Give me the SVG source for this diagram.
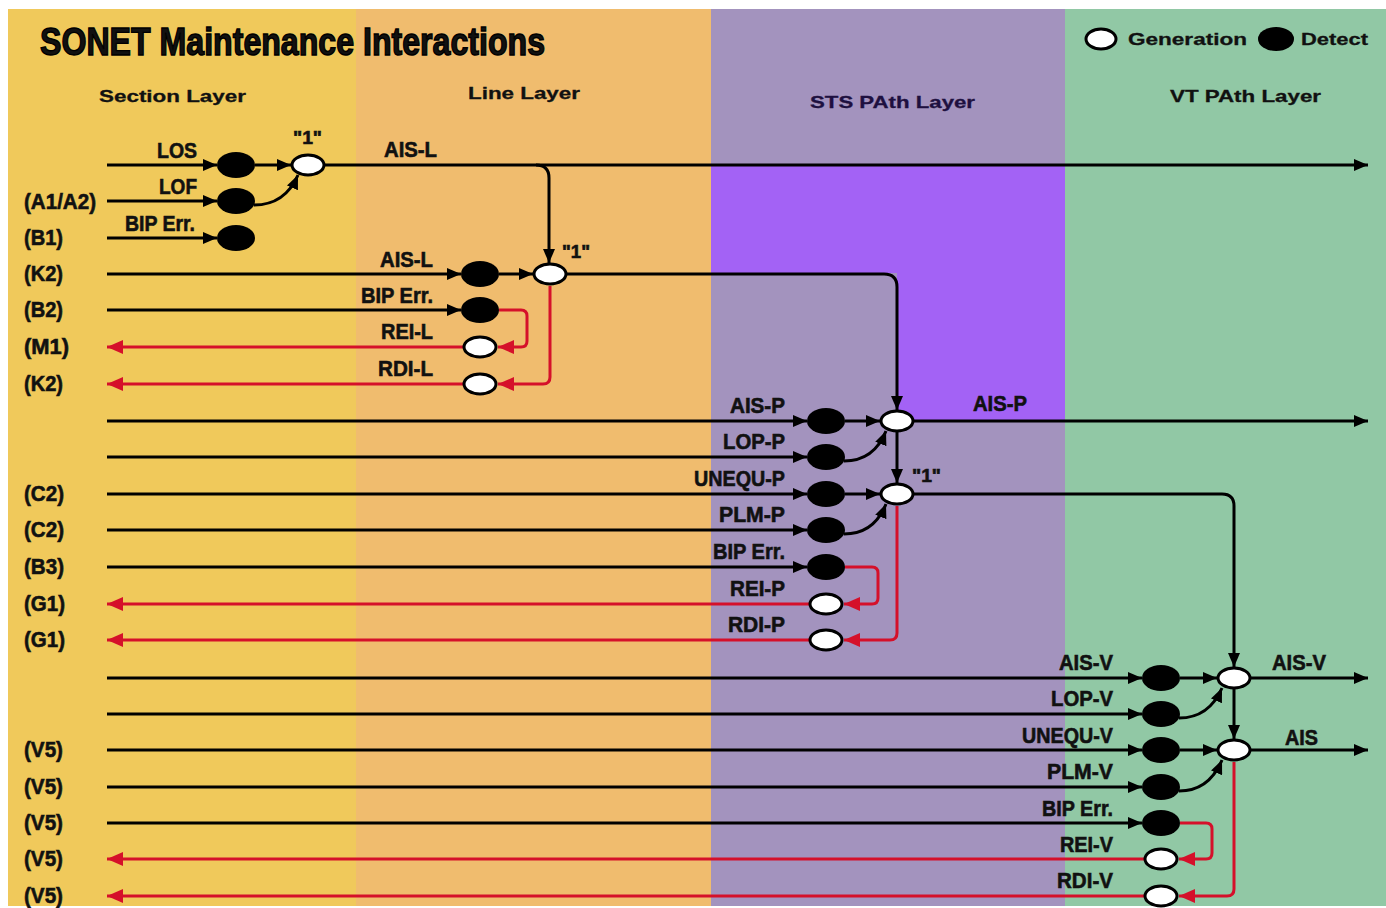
<svg xmlns="http://www.w3.org/2000/svg" width="1386" height="908" viewBox="0 0 1386 908">
<style>
.ln{fill:none;stroke:#000;stroke-width:3;marker-end:url(#ab)}
.rd{fill:none;stroke:#D5102A;stroke-width:3;marker-end:url(#ar)}
.det{fill:#000}
.gen{fill:#fff;stroke:#000;stroke-width:3}
text{font-family:"Liberation Sans",Arial,Helvetica,sans-serif;font-weight:bold;fill:#111}
.lb{font-size:22px;stroke:#111;stroke-width:0.6}
.lbe{font-size:22px;text-anchor:end;stroke:#111;stroke-width:0.6}
.hd{font-size:17px;stroke:#111;stroke-width:0.3}
.q{font-size:18px;stroke:#111;stroke-width:0.6}
.ttl{font-size:38px;stroke:#000;stroke-width:1.4}
</style>
<defs>
<marker id="ab" markerUnits="userSpaceOnUse" markerWidth="14" markerHeight="12" refX="14" refY="6" orient="auto"><path d="M0,0 L14,6 L0,12 z" fill="#000"/></marker>
<marker id="ar" markerUnits="userSpaceOnUse" markerWidth="16" markerHeight="14" refX="16" refY="7" orient="auto"><path d="M0,0 L16,7 L0,14 z" fill="#D5102A"/></marker>
</defs>
<rect x="0" y="0" width="1386" height="908" fill="#fff"/>
<g id="bands">
<rect x="8" y="9" width="349" height="897" fill="#F0C95B"/>
<rect x="356" y="9" width="356" height="897" fill="#F0BC6E"/>
<rect x="711" y="9" width="355" height="897" fill="#A393BE"/>
<path d="M711,165 H1065 V421 H897 V273 H711 Z" fill="#A362F5"/>
<rect x="1065" y="9" width="321" height="897" fill="#91C8A5"/>
</g>
<g id="titles">
<text class="ttl" x="40" y="55" textLength="505" lengthAdjust="spacingAndGlyphs">SONET Maintenance Interactions</text>
<text class="hd" x="99" y="102" textLength="147" lengthAdjust="spacingAndGlyphs">Section Layer</text>
<text class="hd" x="468" y="99" textLength="112" lengthAdjust="spacingAndGlyphs">Line Layer</text>
<text class="hd" x="810" y="108" textLength="165" lengthAdjust="spacingAndGlyphs" style="fill:#1e1040;stroke:#1e1040">STS PAth Layer</text>
<text class="hd" x="1170" y="102" textLength="151" lengthAdjust="spacingAndGlyphs">VT PAth Layer</text>
</g>
<g id="legend">
<ellipse class="gen" cx="1101" cy="39" rx="15" ry="10"/>
<text class="hd" x="1128" y="45" textLength="119" lengthAdjust="spacingAndGlyphs">Generation</text>
<ellipse class="det" cx="1276" cy="39" rx="18" ry="12"/>
<text class="hd" x="1301" y="45" textLength="67" lengthAdjust="spacingAndGlyphs">Detect</text>
</g>
<g id="overhead-labels">
<text class="lb" x="24" y="209" textLength="72" lengthAdjust="spacingAndGlyphs">(A1/A2)</text>
<text class="lb" x="24" y="245" textLength="39" lengthAdjust="spacingAndGlyphs">(B1)</text>
<text class="lb" x="24" y="281" textLength="39" lengthAdjust="spacingAndGlyphs">(K2)</text>
<text class="lb" x="24" y="317" textLength="39" lengthAdjust="spacingAndGlyphs">(B2)</text>
<text class="lb" x="24" y="354" textLength="45" lengthAdjust="spacingAndGlyphs">(M1)</text>
<text class="lb" x="24" y="391" textLength="39" lengthAdjust="spacingAndGlyphs">(K2)</text>
<text class="lb" x="24" y="501" textLength="40" lengthAdjust="spacingAndGlyphs">(C2)</text>
<text class="lb" x="24" y="537" textLength="40" lengthAdjust="spacingAndGlyphs">(C2)</text>
<text class="lb" x="24" y="574" textLength="40" lengthAdjust="spacingAndGlyphs">(B3)</text>
<text class="lb" x="24" y="611" textLength="41" lengthAdjust="spacingAndGlyphs">(G1)</text>
<text class="lb" x="24" y="647" textLength="41" lengthAdjust="spacingAndGlyphs">(G1)</text>
<text class="lb" x="24" y="757" textLength="39" lengthAdjust="spacingAndGlyphs">(V5)</text>
<text class="lb" x="24" y="794" textLength="39" lengthAdjust="spacingAndGlyphs">(V5)</text>
<text class="lb" x="24" y="830" textLength="39" lengthAdjust="spacingAndGlyphs">(V5)</text>
<text class="lb" x="24" y="866" textLength="39" lengthAdjust="spacingAndGlyphs">(V5)</text>
<text class="lb" x="24" y="903" textLength="39" lengthAdjust="spacingAndGlyphs">(V5)</text>
</g>
<g id="connectors">
<path class="ln" d="M107,165 H217"/>
<path class="ln" d="M255,165 H291"/>
<path class="ln" d="M324,165 H1368"/>
<path class="ln" d="M107,201 H217"/>
<path class="ln" d="M254,205 Q285,205 298,175"/>
<path class="ln" d="M107,238 H217"/>
<path class="ln" d="M536,165 Q549,165 549,178 V263"/>
<path class="ln" d="M107,274 H461"/>
<path class="ln" d="M499,274 H533"/>
<path class="ln" d="M566,274 H884 Q897,274 897,287 V410"/>
<path class="ln" d="M107,310 H461"/>
<path class="rd" d="M499,310 H521 Q527,310 527,316 V341 Q527,347 521,347 H498"/>
<path class="rd" d="M463,347 H107"/>
<path class="rd" d="M550,286 V377 Q550,384 543,384 H498"/>
<path class="rd" d="M463,384 H107"/>
<path class="ln" d="M107,421 H807"/>
<path class="ln" d="M845,421 H880"/>
<path class="ln" d="M913,421 H1368"/>
<path class="ln" d="M107,457 H807"/>
<path class="ln" d="M844,461 Q874,461 886,431"/>
<path class="ln" d="M897,432 V483"/>
<path class="ln" d="M107,494 H807"/>
<path class="ln" d="M845,494 H880"/>
<path class="ln" d="M913,494 H1222 Q1234,494 1234,506 V667"/>
<path class="ln" d="M107,530 H807"/>
<path class="ln" d="M844,534 Q874,534 886,504"/>
<path class="ln" d="M107,567 H807"/>
<path class="rd" d="M845,567 H872 Q878,567 878,573 V598 Q878,604 872,604 H844"/>
<path class="rd" d="M809,604 H107"/>
<path class="rd" d="M897,506 V633 Q897,640 890,640 H844"/>
<path class="rd" d="M809,640 H107"/>
<path class="ln" d="M107,678 H1142"/>
<path class="ln" d="M1180,678 H1217"/>
<path class="ln" d="M1250,678 H1368"/>
<path class="ln" d="M107,714 H1142"/>
<path class="ln" d="M1179,718 Q1209,718 1222,688"/>
<path class="ln" d="M1234,689 V739"/>
<path class="ln" d="M107,750 H1142"/>
<path class="ln" d="M1180,750 H1217"/>
<path class="ln" d="M1250,750 H1368"/>
<path class="ln" d="M107,787 H1142"/>
<path class="ln" d="M1179,791 Q1209,791 1222,760"/>
<path class="ln" d="M107,823 H1142"/>
<path class="rd" d="M1180,823 H1206 Q1212,823 1212,829 V853 Q1212,859 1206,859 H1179"/>
<path class="rd" d="M1144,859 H107"/>
<path class="rd" d="M1234,762 V889 Q1234,896 1227,896 H1179"/>
<path class="rd" d="M1144,896 H107"/>
</g>
<g id="connector-labels">
<text class="lbe" x="197" y="158" textLength="40" lengthAdjust="spacingAndGlyphs">LOS</text>
<text class="lbe" x="197" y="194" textLength="38" lengthAdjust="spacingAndGlyphs">LOF</text>
<text class="lbe" x="195" y="231" textLength="70" lengthAdjust="spacingAndGlyphs">BIP Err.</text>
<text class="q" x="293" y="144" textLength="29" lengthAdjust="spacingAndGlyphs">"1"</text>
<text class="lb" x="384" y="157" textLength="53" lengthAdjust="spacingAndGlyphs">AIS-L</text>
<text class="lbe" x="433" y="267" textLength="53" lengthAdjust="spacingAndGlyphs">AIS-L</text>
<text class="lbe" x="433" y="303" textLength="72" lengthAdjust="spacingAndGlyphs">BIP Err.</text>
<text class="lbe" x="433" y="339" textLength="52" lengthAdjust="spacingAndGlyphs">REI-L</text>
<text class="lbe" x="433" y="376" textLength="55" lengthAdjust="spacingAndGlyphs">RDI-L</text>
<text class="q" x="562" y="258" textLength="28" lengthAdjust="spacingAndGlyphs">"1"</text>
<text class="lbe" x="785" y="413" textLength="55" lengthAdjust="spacingAndGlyphs">AIS-P</text>
<text class="lb" x="973" y="411" textLength="54" lengthAdjust="spacingAndGlyphs">AIS-P</text>
<text class="lbe" x="785" y="449" textLength="62" lengthAdjust="spacingAndGlyphs">LOP-P</text>
<text class="lbe" x="785" y="486" textLength="91" lengthAdjust="spacingAndGlyphs">UNEQU-P</text>
<text class="q" x="912" y="482" textLength="29" lengthAdjust="spacingAndGlyphs">"1"</text>
<text class="lbe" x="785" y="522" textLength="66" lengthAdjust="spacingAndGlyphs">PLM-P</text>
<text class="lbe" x="785" y="559" textLength="72" lengthAdjust="spacingAndGlyphs">BIP Err.</text>
<text class="lbe" x="785" y="596" textLength="55" lengthAdjust="spacingAndGlyphs">REI-P</text>
<text class="lbe" x="785" y="632" textLength="57" lengthAdjust="spacingAndGlyphs">RDI-P</text>
<text class="lbe" x="1113" y="670" textLength="54" lengthAdjust="spacingAndGlyphs">AIS-V</text>
<text class="lb" x="1272" y="670" textLength="54" lengthAdjust="spacingAndGlyphs">AIS-V</text>
<text class="lbe" x="1113" y="706" textLength="62" lengthAdjust="spacingAndGlyphs">LOP-V</text>
<text class="lbe" x="1113" y="743" textLength="91" lengthAdjust="spacingAndGlyphs">UNEQU-V</text>
<text class="lb" x="1285" y="745" textLength="33" lengthAdjust="spacingAndGlyphs">AIS</text>
<text class="lbe" x="1113" y="779" textLength="66" lengthAdjust="spacingAndGlyphs">PLM-V</text>
<text class="lbe" x="1113" y="816" textLength="71" lengthAdjust="spacingAndGlyphs">BIP Err.</text>
<text class="lbe" x="1113" y="852" textLength="53" lengthAdjust="spacingAndGlyphs">REI-V</text>
<text class="lbe" x="1113" y="888" textLength="56" lengthAdjust="spacingAndGlyphs">RDI-V</text>
</g>
<g id="n-los-det"><ellipse class="det" cx="236" cy="165" rx="19" ry="13"/></g>
<g id="n-lof-det"><ellipse class="det" cx="236" cy="201" rx="19" ry="13"/></g>
<g id="n-b1-det"><ellipse class="det" cx="236" cy="238" rx="19" ry="13"/></g>
<g id="n-aisl-gen"><ellipse class="gen" cx="308" cy="165" rx="16" ry="10"/></g>
<g id="n-aisl-det"><ellipse class="det" cx="480" cy="274" rx="19" ry="13"/></g>
<g id="n-line-gen"><ellipse class="gen" cx="550" cy="274" rx="16" ry="10"/></g>
<g id="n-b2-det"><ellipse class="det" cx="480" cy="310" rx="19" ry="13"/></g>
<g id="n-reil-gen"><ellipse class="gen" cx="480" cy="347" rx="16" ry="10"/></g>
<g id="n-rdil-gen"><ellipse class="gen" cx="480" cy="384" rx="16" ry="10"/></g>
<g id="n-aisp-det"><ellipse class="det" cx="826" cy="421" rx="19" ry="13"/></g>
<g id="n-aisp-gen"><ellipse class="gen" cx="897" cy="421" rx="16" ry="10"/></g>
<g id="n-lopp-det"><ellipse class="det" cx="826" cy="457" rx="19" ry="13"/></g>
<g id="n-unequp-det"><ellipse class="det" cx="826" cy="494" rx="19" ry="13"/></g>
<g id="n-path-gen"><ellipse class="gen" cx="897" cy="494" rx="16" ry="10"/></g>
<g id="n-plmp-det"><ellipse class="det" cx="826" cy="530" rx="19" ry="13"/></g>
<g id="n-b3-det"><ellipse class="det" cx="826" cy="567" rx="19" ry="13"/></g>
<g id="n-reip-gen"><ellipse class="gen" cx="826" cy="604" rx="16" ry="10"/></g>
<g id="n-rdip-gen"><ellipse class="gen" cx="826" cy="640" rx="16" ry="10"/></g>
<g id="n-aisv-det"><ellipse class="det" cx="1161" cy="678" rx="19" ry="13"/></g>
<g id="n-aisv-gen"><ellipse class="gen" cx="1234" cy="678" rx="16" ry="10"/></g>
<g id="n-lopv-det"><ellipse class="det" cx="1161" cy="714" rx="19" ry="13"/></g>
<g id="n-unequv-det"><ellipse class="det" cx="1161" cy="750" rx="19" ry="13"/></g>
<g id="n-ais-gen"><ellipse class="gen" cx="1234" cy="750" rx="16" ry="10"/></g>
<g id="n-plmv-det"><ellipse class="det" cx="1161" cy="787" rx="19" ry="13"/></g>
<g id="n-v5-det"><ellipse class="det" cx="1161" cy="823" rx="19" ry="13"/></g>
<g id="n-reiv-gen"><ellipse class="gen" cx="1161" cy="859" rx="16" ry="10"/></g>
<g id="n-rdiv-gen"><ellipse class="gen" cx="1161" cy="896" rx="16" ry="10"/></g>
</svg>
